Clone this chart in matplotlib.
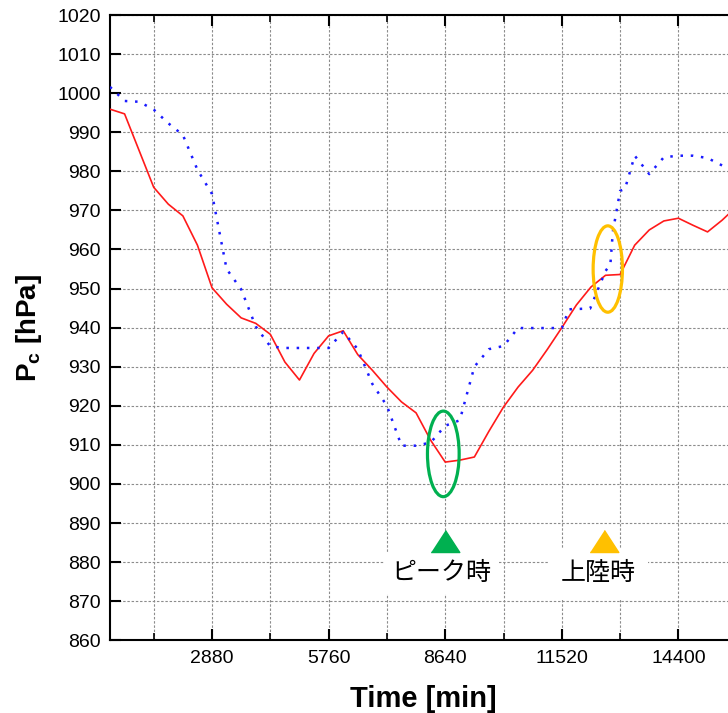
import matplotlib
matplotlib.use('Agg')
import matplotlib.pyplot as plt
from matplotlib.patches import Ellipse
import numpy as np

plt.rcParams['font.family'] = ['Liberation Sans', 'DejaVu Sans']
plt.rcParams['mathtext.fontset'] = 'custom'
plt.rcParams['mathtext.rm'] = 'Liberation Sans'
plt.rcParams['mathtext.bf'] = 'Liberation Sans:bold'

# red solid line (time [min], central pressure [hPa])
red_t = [360, 720, 1080, 1440, 1800, 2160, 2520, 2880, 3240, 3600, 3960, 4320, 4680,
         5040, 5400, 5760, 6120, 6480, 6840, 7200, 7560, 7920, 8280, 8640, 9000, 9360,
         9720, 10080, 10440, 10800, 11160, 11520, 11880, 12240, 12600, 12960, 13320,
         13680, 14040, 14400, 14760, 15120, 15480, 15840]
red_p = [995.9, 994.7, 985.3, 975.9, 971.6, 968.6, 961.1, 950.2, 946.0, 942.5, 941.1,
         938.3, 931.2, 926.6, 933.4, 937.9, 939.2, 933.1, 929.1, 924.8, 921.0, 918.2,
         911.2, 905.6, 906.1, 906.9, 913.5, 919.7, 924.8, 929.1, 934.4, 940.0, 945.8,
         950.4, 953.4, 953.6, 961.1, 965.0, 967.3, 968.0, 966.2, 964.5, 967.5, 971.0]

# blue dotted line
blue_t = [360, 720, 1080, 1440, 1800, 2160, 2520, 2880, 3240, 3600, 3960, 4320, 4680,
          5760, 6120, 6480, 6840, 7200, 7560, 7920, 8280, 8640, 9000, 9360, 9720, 10080,
          10440, 11520, 11700, 12220, 12600, 12720, 12780, 12960, 13080, 13320, 13680,
          14040, 14400, 14760, 15120, 15480, 15840]
blue_p = [1001.6, 998.0, 997.8, 995.8, 992.3, 989.3, 980.4, 974.2, 955.0, 949.8, 940.3,
          935.2, 934.8, 934.8, 938.9, 934.5, 925.6, 920.0, 909.8, 909.8, 910.6, 914.9,
          916.3, 930.0, 934.5, 935.3, 939.9, 939.9, 944.7, 944.9, 954.5, 956.2, 964.5,
          975.0, 975.5, 984.0, 979.3, 983.6, 984.0, 984.0, 983.4, 981.5, 979.5]

# markers: peak and landfall
peak_t = 8640
land_t = 12560
mark_p = 885.3
peak_label_t = 8553
land_label_t = 12420
label_p = 877.1

# ellipses (center t, center p, width min, height hPa)
green_ell = (8593, 907.7, 783, 21.9)
orange_ell = (12656, 955.0, 724, 22.1)

green = '#00b050'
orange = '#ffc000'

fig = plt.figure(figsize=(7.28, 7.13), dpi=100)
ax = fig.add_axes([110/728, (713-640.3)/713, (736.7-110)/728, 625.3/713])

ax.set_xlim(360, 15840)
ax.set_ylim(860, 1020)
ax.set_xticks([2880, 5760, 8640, 11520, 14400])
ax.set_xticks([1440, 4320, 7200, 10080, 12960, 15840], minor=True)
ax.set_yticks(np.arange(860, 1021, 10))

ax.grid(True, which='both', axis='x', color='#8c8c8c', linestyle=(0, (2.2, 1.6)), linewidth=0.8)
ax.grid(True, which='major', axis='y', color='#8c8c8c', linestyle=(0, (2.2, 1.6)), linewidth=0.8)
ax.set_axisbelow(True)

for s in ['left', 'bottom', 'top', 'right']:
    ax.spines[s].set_linewidth(1.5)

ax.tick_params(which='major', direction='in', length=8, width=1.5, top=True, right=False,
               labelsize=14, pad=7)
ax.tick_params(which='minor', direction='in', length=5, width=1.2, top=True, right=False)
ax.tick_params(axis='y', pad=6.5)

ax.plot(red_t, red_p, color='#ff1a1a', linewidth=1.2, zorder=3)
ax.plot(blue_t, blue_p, color='#1a1aff', linewidth=1.8, linestyle=(0, (1, 3.1)), zorder=3)

for e, c in [(green_ell, green), (orange_ell, orange)]:
    ax.add_patch(Ellipse((e[0], e[1]), e[2], e[3], fill=False, edgecolor=c, linewidth=2.3, zorder=4))

tri = [(-1, -0.77), (1, -0.77), (0, 0.77)]
ax.plot([peak_t], [mark_p], marker=tri, markersize=20.6, color=green, linestyle='none', zorder=5)
ax.plot([land_t], [mark_p], marker=tri, markersize=20.6, color=orange, linestyle='none', zorder=5)

jp = ['Noto Sans CJK JP', 'DejaVu Sans']
ax.text(peak_label_t, label_p, 'ピーク時', ha='center', va='center', fontsize=18, family=jp,
        bbox=dict(boxstyle='square,pad=0.3', fc='white', ec='none'), zorder=4)
ax.text(land_label_t, label_p, '上陸時', ha='center', va='center', fontsize=18, family=jp,
        bbox=dict(boxstyle='square,pad=0.5', fc='white', ec='none'), zorder=4)

ax.set_xlabel('Time [min]', fontsize=21, fontweight='bold')
ax.set_ylabel(r'P$_\mathbf{c}$ [hPa]', fontsize=20, fontweight='bold')
ax.xaxis.set_label_coords(0.5, -0.071)
ax.yaxis.set_label_coords(-0.106, 0.5)

fig.savefig('out.png', dpi=100)
